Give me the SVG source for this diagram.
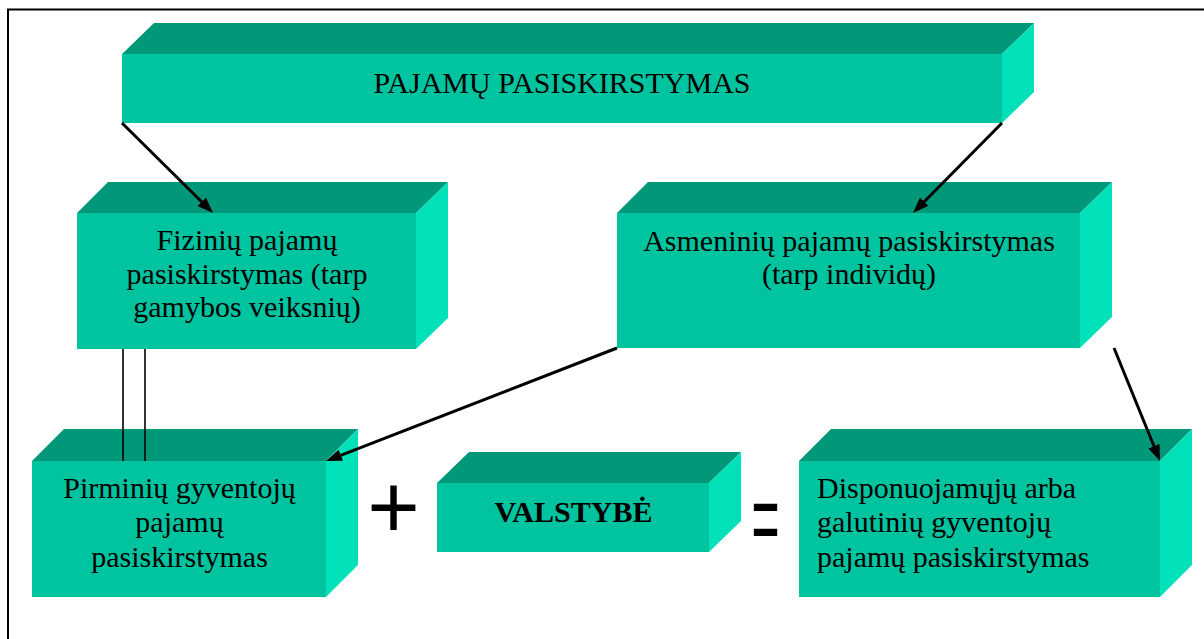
<svg xmlns="http://www.w3.org/2000/svg" width="1204" height="639" viewBox="0 0 1204 639">
<style>
.front{fill:#00C49F;}
.top{fill:#009879;}
.side{fill:#00E0B9;}
.t{font-family:"Liberation Serif","Times New Roman",serif;font-size:30px;fill:#000;}
.c{text-anchor:middle;}
.b{font-weight:bold;}
.arr{stroke:#000;stroke-width:3;fill:none;marker-end:url(#ah);}
.dl{stroke:#000;stroke-width:1.6;fill:none;}
.sym{font-family:"Liberation Sans",Arial,sans-serif;fill:#000;}
</style>
<defs>
<marker id="ah" markerUnits="userSpaceOnUse" markerWidth="18" markerHeight="14" refX="12" refY="6" orient="auto">
<path d="M0,0 L16,6 L0,12 z" fill="#000"/>
</marker>
</defs>
<rect width="1204" height="639" fill="#fff"/>
<path d="M8,639 V9.5 H1204" fill="none" stroke="#000" stroke-width="2"/>

<g id="title">
<polygon class="top" points="122,54 154,23 1034,23 1002,54"/>
<polygon class="side" points="1002,54 1034,23 1034,92 1002,123"/>
<rect class="front" x="122" y="54" width="880" height="69"/>
<text class="t c" x="562" y="93">PAJAMŲ PASISKIRSTYMAS</text>
</g>

<g id="fiziniu">
<polygon class="top" points="77,213 108,182 448,182 416,213"/>
<polygon class="side" points="416,213 448,182 448,318 416,349"/>
<rect class="front" x="77" y="213" width="339" height="136"/>
<text class="t c" x="247" y="250">Fizinių pajamų</text>
<text class="t c" x="247" y="283.5">pasiskirstymas (tarp</text>
<text class="t c" x="247" y="317">gamybos veiksnių)</text>
</g>

<g id="asmeniniu">
<polygon class="top" points="617,213 648,182 1112,182 1080,213"/>
<polygon class="side" points="1080,213 1112,182 1112,317 1080,348"/>
<rect class="front" x="617" y="213" width="463" height="135"/>
<text class="t c" x="849" y="250.5">Asmeninių pajamų pasiskirstymas</text>
<text class="t c" x="849" y="284">(tarp individų)</text>
</g>

<g id="pirminiu">
<polygon class="top" points="32,461 64,429 358,429 326,461"/>
<polygon class="side" points="326,461 358,429 358,565 326,597"/>
<rect class="front" x="32" y="461" width="294" height="136"/>
<text class="t c" x="179.5" y="497.5">Pirminių gyventojų</text>
<text class="t c" x="179.5" y="531.5">pajamų</text>
<text class="t c" x="179.5" y="566.5">pasiskirstymas</text>
</g>

<g id="valstybe">
<polygon class="top" points="437,483 469,452 741,452 709,483"/>
<polygon class="side" points="709,483 741,452 741,521 709,552"/>
<rect class="front" x="437" y="483" width="272" height="69"/>
<text class="t c b" x="573.5" y="521.5">VALSTYBĖ</text>
</g>

<g id="disponuojamuju">
<polygon class="top" points="799,461 831,429 1192,429 1160,461"/>
<polygon class="side" points="1160,461 1192,429 1192,565 1160,597"/>
<rect class="front" x="799" y="461" width="361" height="136"/>
<text class="t" x="817" y="497.5">Disponuojamųjų arba</text>
<text class="t" x="817" y="531.5">galutinių gyventojų</text>
<text class="t" x="817" y="566.5">pajamų pasiskirstymas</text>
</g>

<g id="operators">
<text class="sym" x="393.5" y="538" font-size="90" text-anchor="middle">+</text>
<text class="sym" font-size="100" text-anchor="middle" transform="translate(765.5,553) scale(0.48,1)">=</text>
</g>

<g id="connectors">
<line class="arr" x1="122" y1="123" x2="210.2" y2="210.2"/>
<line class="arr" x1="1002" y1="123" x2="915.8" y2="210.2"/>
<line class="arr" x1="617" y1="348" x2="329.7" y2="459.6"/>
<line class="arr" x1="1114" y1="348" x2="1158.5" y2="457.3"/>
<line class="dl" x1="123" y1="349" x2="123" y2="461"/>
<line class="dl" x1="145" y1="349" x2="145" y2="461"/>
</g>
</svg>
